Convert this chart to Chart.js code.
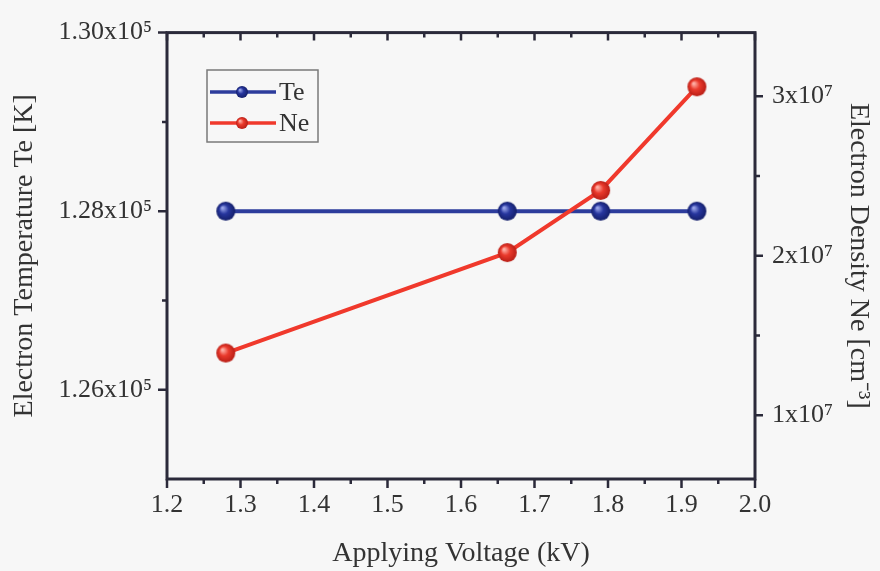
<!DOCTYPE html>
<html><head><meta charset="utf-8">
<script src="https://cdn.jsdelivr.net/npm/chart.js@4.4.0/dist/chart.umd.min.js"></script>
<style>html,body{margin:0;padding:0;background:#f7f7f7;}#wrap{width:880px;height:571px;position:relative;}</style>
</head><body><div id="wrap"><canvas id="c" width="880" height="571"></canvas></div>
<script>
// ---- data ----
const voltage = [1.28, 1.663, 1.79, 1.921];
const teValues = [1.28e5, 1.28e5, 1.28e5, 1.28e5];
const neValues = [1.39e7, 2.02e7, 2.41e7, 3.06e7];
const seriesLabels = ['Te', 'Ne'];
const xMajorTicks = [1.2, 1.3, 1.4, 1.5, 1.6, 1.7, 1.8, 1.9, 2.0];
const xMinorTicks = [1.25, 1.35, 1.45, 1.55, 1.65, 1.75, 1.85, 1.95];
const teTicks = [1.26e5, 1.28e5, 1.30e5];
const teTickLabels = ['1.26x10⁵', '1.28x10⁵', '1.30x10⁵'];
const teMinorTicks = [1.27e5, 1.29e5];
const neTicks = [1e7, 2e7, 3e7];
const neTickLabels = ['1x10⁷', '2x10⁷', '3x10⁷'];
const neMinorTicks = [1.5e7, 2.5e7];
const xTitle = 'Applying Voltage (kV)';
const teTitle = 'Electron Temperature Te [K]';
const neTitle = 'Electron Density Ne [cm⁻³]';

const AXIS = '#2b2a3a';
const TXT = '#333333';
const BLUE = '#2d3c9c';
const RED = '#f0392c';

function sphere(r, light, base, dark) {
  const s = Math.ceil(r * 2) + 2;
  const c = document.createElement('canvas');
  c.width = s; c.height = s;
  const g = c.getContext('2d');
  const cx = s / 2, cy = s / 2;
  const grad = g.createRadialGradient(cx - r * 0.35, cy - r * 0.35, r * 0.08, cx, cy, r);
  grad.addColorStop(0, light);
  grad.addColorStop(0.45, base);
  grad.addColorStop(1, dark);
  g.fillStyle = grad;
  g.beginPath(); g.arc(cx, cy, r, 0, Math.PI * 2); g.fill();
  return c;
}
const blueBall = sphere(9.5, '#9aa6ea', '#27369e', '#141f6a');
const redBall = sphere(9.5, '#ffb0a6', '#ea3a2c', '#b81e16');
const blueBallSm = sphere(6, '#9aa6ea', '#27369e', '#141f6a');
const redBallSm = sphere(6, '#ffb0a6', '#ea3a2c', '#b81e16');

const framePlugin = {
  id: 'frame',
  afterDraw(chart) {
    const {ctx, chartArea: a, scales} = chart;
    const x = scales.x, yl = scales.yTe, yr = scales.yNe;
    ctx.save();
    ctx.strokeStyle = AXIS;
    ctx.lineWidth = 3;
    ctx.lineCap = 'butt';
    ctx.strokeRect(a.left, a.top, a.right - a.left, a.bottom - a.top);
    ctx.lineWidth = 2.5;
    ctx.beginPath();
    xMajorTicks.forEach(v => { const px = x.getPixelForValue(v);
      ctx.moveTo(px, a.bottom); ctx.lineTo(px, a.bottom + 9);
      ctx.moveTo(px, a.top); ctx.lineTo(px, a.top + 8); });
    xMinorTicks.forEach(v => { const px = x.getPixelForValue(v);
      ctx.moveTo(px, a.bottom); ctx.lineTo(px, a.bottom + 5);
      ctx.moveTo(px, a.top); ctx.lineTo(px, a.top + 5); });
    teTicks.forEach(v => { const py = yl.getPixelForValue(v);
      ctx.moveTo(a.left, py); ctx.lineTo(a.left - 9, py); });
    teMinorTicks.forEach(v => { const py = yl.getPixelForValue(v);
      ctx.moveTo(a.left, py); ctx.lineTo(a.left - 5, py); });
    neTicks.forEach(v => { const py = yr.getPixelForValue(v);
      ctx.moveTo(a.right, py); ctx.lineTo(a.right + 8, py); });
    neMinorTicks.forEach(v => { const py = yr.getPixelForValue(v);
      ctx.moveTo(a.right, py); ctx.lineTo(a.right + 5, py); });
    ctx.stroke();

    // legend
    const bx = 207, by = 70, bw = 111, bh = 72;
    ctx.lineWidth = 1.5;
    ctx.strokeStyle = '#7a7a7a';
    ctx.strokeRect(bx, by, bw, bh);
    const items = [
      {label: chart.data.datasets[0].label, color: BLUE, img: blueBallSm, y: 92},
      {label: chart.data.datasets[1].label, color: RED, img: redBallSm, y: 123}
    ];
    ctx.font = '26px "Liberation Serif", "Times New Roman", serif';
    ctx.textBaseline = 'middle';
    ctx.textAlign = 'left';
    items.forEach(it => {
      ctx.strokeStyle = it.color;
      ctx.lineWidth = 3.5;
      ctx.beginPath(); ctx.moveTo(210, it.y); ctx.lineTo(276, it.y); ctx.stroke();
      ctx.drawImage(it.img, 242 - it.img.width / 2, it.y - it.img.height / 2);
      ctx.fillStyle = TXT;
      ctx.fillText(it.label, 279, it.y + 1);
    });
    ctx.restore();
  }
};

const tickFont = {family: '"Liberation Serif", "Times New Roman", serif', size: 26};
const titleFont = {family: '"Liberation Serif", "Times New Roman", serif', size: 28};

new Chart(document.getElementById('c'), {
  type: 'line',
  data: {
    datasets: [
      {
        label: seriesLabels[0], yAxisID: 'yTe', order: 1,
        data: voltage.map((v, i) => ({x: v, y: teValues[i]})),
        borderColor: BLUE, borderWidth: 4, pointStyle: blueBall,
        pointRadius: 10, pointHoverRadius: 10, tension: 0
      },
      {
        label: seriesLabels[1], yAxisID: 'yNe', order: 0,
        data: voltage.map((v, i) => ({x: v, y: neValues[i]})),
        borderColor: RED, borderWidth: 4, pointStyle: redBall,
        pointRadius: 10, pointHoverRadius: 10, tension: 0
      }
    ]
  },
  options: {
    responsive: false, animation: false, devicePixelRatio: 1,
    layout: {padding: {top: 32, left: 0, right: 0, bottom: 0}},
    plugins: {legend: {display: false}, tooltip: {enabled: false}},
    scales: {
      x: {
        type: 'linear', min: 1.2, max: 2.0,
        afterBuildTicks: s => { s.ticks = xMajorTicks.map(v => ({value: v})); },
        afterFit: s => { s.height = 92; },
        grid: {display: false, drawTicks: false}, border: {display: false},
        ticks: {font: tickFont, color: TXT, padding: 11, maxRotation: 0, autoSkip: false,
          callback: v => Number(v).toFixed(1)},
        title: {display: true, text: xTitle, font: titleFont, color: TXT, padding: {top: 0, bottom: 1}}
      },
      yTe: {
        type: 'linear', position: 'left', min: 1.25e5, max: 1.30e5,
        afterBuildTicks: s => { s.ticks = teTicks.map(v => ({value: v})); },
        afterFit: s => { s.width = 167; },
        grid: {display: false, drawTicks: false}, border: {display: false},
        ticks: {font: tickFont, color: TXT, padding: 15, autoSkip: false,
          callback: v => teTickLabels[teTicks.indexOf(v)]},
        title: {display: true, text: teTitle, font: titleFont, color: TXT, padding: {top: 8, bottom: 0}}
      },
      yNe: {
        type: 'linear', position: 'right', min: 0.6e7, max: 3.4e7,
        afterBuildTicks: s => { s.ticks = neTicks.map(v => ({value: v})); },
        afterFit: s => { s.width = 125; },
        grid: {display: false, drawTicks: false}, border: {display: false},
        ticks: {font: tickFont, color: TXT, padding: 17, autoSkip: false,
          callback: v => neTickLabels[neTicks.indexOf(v)]},
        title: {display: true, text: neTitle, font: titleFont, color: TXT, padding: {top: 5, bottom: 0}}
      }
    }
  },
  plugins: [framePlugin]
});
</script>
</body></html>
